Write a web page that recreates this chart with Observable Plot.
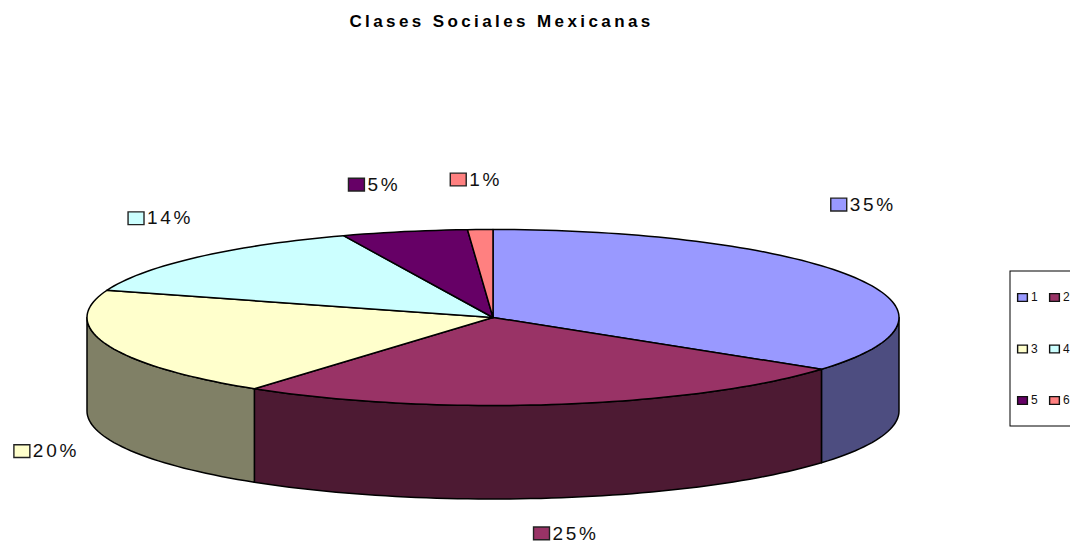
<!DOCTYPE html>
<html>
<head>
<meta charset="utf-8">
<style>
  html, body { margin: 0; padding: 0; background: #fff; overflow: hidden; }
  svg { display: block; }
  .chart-title text { letter-spacing: 3.4px; }
  .pct-label text { letter-spacing: 2.7px; }
</style>
<script src="https://cdn.jsdelivr.net/npm/d3@7"></script>
<script src="https://cdn.jsdelivr.net/npm/@observablehq/plot@0.6"></script>
</head>
<body>
<div id="chart"></div>
<script>
// Class shares, in percent, clockwise from twelve o'clock.
const categories = ["1", "2", "3", "4", "5", "6"];
const shares = [35, 25, 20, 14, 5, 1];
const topColors = ["#9999ff", "#993366", "#ffffcc", "#ccffff", "#660066", "#ff8080"];
const wallColors = ["#4d4d80", "#4d1a33", "#808066", "#668080", "#330033", "#804040"];
const chartTitle = "Clases Sociales Mexicanas";

// Pie geometry, in the pixel-sized units of the x and y scales.
const W = 1070, H = 544;
const cx = 492.5, cy = 317, rx = 406, ry = 88, depth = 93.5;
// Offset of each percent label's swatch from the rim at the slice's mid-angle.
const labelOffsetX = [-16, -15, -85, -61, -48, -22];
const labelOffsetY = [-73, 129, 106.5, -39, -47, -50];
// Legend layout.
const legendBox = {x1: 1010, x2: 1080, y1: 271, y2: 426};
const legendColumns = [1022, 1054];
const legendRows = [297, 348.5, 400];

const rad = d => d * Math.PI / 180;
const rimX = a => cx + rx * Math.sin(rad(a));
const rimY = a => cy - ry * Math.cos(rad(a));

// Cumulative start and end angle of every slice, in degrees.
let running = 0;
const total = d3.sum(shares);
const slices = shares.map((v, i) => {
  const a0 = running / total * 360;
  running += v;
  return {i, value: v, a0, a1: running / total * 360, mid: (a0 + (running / total * 360)) / 2};
});

function arc(a0, a1, offset = 0) {
  const steps = Math.max(2, Math.ceil((a1 - a0) / 1.5));
  return d3.range(steps + 1).map(k => {
    const a = a0 + (a1 - a0) * k / steps;
    return {x: rimX(a), y: rimY(a) + offset};
  });
}

// Side walls: only the part of each slice on the near half of the ellipse shows.
const walls = slices.flatMap(s => {
  const a0 = Math.max(s.a0, 90), a1 = Math.min(s.a1, 270);
  if (a1 <= a0) return [];
  const outline = [...arc(a0, a1), ...arc(a0, a1, depth).reverse()];
  outline.push(outline[0]);
  return outline.map(p => ({...p, id: "w" + s.i, color: wallColors[s.i]}));
});

// Top faces: centre, rim arc, back to centre.
const faces = slices.flatMap(s => {
  const outline = [{x: cx, y: cy}, ...arc(s.a0, s.a1), {x: cx, y: cy}];
  return outline.map(p => ({...p, id: "t" + s.i, color: topColors[s.i]}));
});

const labels = slices.map(s => ({
  x: rimX(s.mid) + labelOffsetX[s.i],
  y: rimY(s.mid) + labelOffsetY[s.i],
  text: s.value + "%",
  color: topColors[s.i]
}));

const legend = categories.map((c, i) => ({
  x: legendColumns[i % 2],
  y: legendRows[Math.floor(i / 2)],
  text: c,
  color: topColors[i]
}));

// Flat rectangular swatch symbols; the area argument selects the width.
const swatch = {
  draw(ctx, size) {
    const w = Math.sqrt(size), h = w * 0.8;
    ctx.rect(-w / 2, -h / 2, w, h);
  }
};

const plot = Plot.plot({
  width: W,
  height: H,
  margin: 0,
  style: {background: "#fff", fontFamily: "'Liberation Sans', Arial, sans-serif"},
  x: {domain: [0, W], range: [0, W], axis: null},
  y: {domain: [0, H], range: [0, H], axis: null},
  color: {type: "identity"},
  marks: [
    Plot.line(walls, {x: "x", y: "y", z: "id", fill: "color", stroke: "#000", strokeWidth: 1.5, strokeLinejoin: "round"}),
    Plot.line(faces, {x: "x", y: "y", z: "id", fill: "color", stroke: "#000", strokeWidth: 1.5, strokeLinejoin: "round"}),

    Plot.dot(labels, {x: "x", y: "y", fill: "color", stroke: "#222", strokeWidth: 1.4, symbol: swatch, r: 9}),
    Plot.text(labels, {x: "x", y: "y", text: "text", dx: 11, textAnchor: "start", lineAnchor: "middle", fontSize: 19, fill: "#111", className: "pct-label"}),

    Plot.rect([legendBox], {x1: "x1", x2: "x2", y1: "y1", y2: "y2", fill: "none", stroke: "#000", strokeWidth: 1}),
    Plot.dot(legend, {x: "x", y: "y", fill: "color", stroke: "#111", strokeWidth: 1.4, symbol: swatch, r: 5.5}),
    Plot.text(legend, {x: "x", y: "y", text: "text", dx: 8.5, textAnchor: "start", lineAnchor: "middle", fontSize: 12, fill: "#111"}),

    Plot.text([chartTitle], {x: () => 501, y: () => 21, text: d => d, fontSize: 17, fontWeight: "bold", fill: "#000", lineAnchor: "middle", className: "chart-title"})
  ]
});
document.getElementById("chart").append(plot);
</script>
</body>
</html>
